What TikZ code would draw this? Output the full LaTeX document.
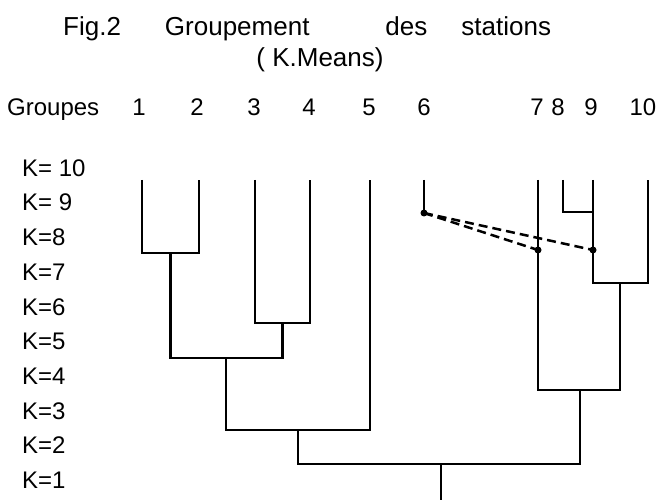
\documentclass[tikz,border=0pt]{standalone}
\usepackage{fontspec}
\setmainfont{Liberation Sans}
\usetikzlibrary{positioning}

\begin{document}
\begin{tikzpicture}[x = 1pt, y = -1pt, font = \fontsize{24}{28}\selectfont,
	lbl/.style = {inner sep = 0pt, anchor = base},
	big/.style = {font = \fontsize{26}{31}\selectfont},
	branch/.style = {line width = 2.5pt},
	link/.style = {line width = 2.5pt, dash pattern = on 9pt off 5pt}]

	\useasboundingbox (0, 0) rectangle (657, 500);

	% Title

	\node [lbl, big, anchor = base west] (title) at (63, 36)
		{Fig.2\hspace{44pt}Groupement\hspace{76pt}des\hspace{34pt}stations};
	\node [lbl, big] (means) at (320, 67) {( K.Means)};

	% Group numbers and leaf tops

	\node [lbl, anchor = base west] (groupes) at (7, 116) {Groupes};
	\foreach \n/\x/\lx in {1/142/139, 2/199/197, 3/255/254, 4/310/309, 5/370/369, 6/424/424,
		7/538/537, 8/563/558, 9/593/591, 10/648/643}
	{
		\node [lbl] (g\n) at (\lx, 116) {\n};
		\coordinate (l\n) at (\x, 180);
	}

	% Levels

	\foreach \k/\t in {10/{K= 10}, 9/{K= 9}, 8/K=8, 7/K=7, 6/K=6, 5/K=5, 4/K=4, 3/K=3, 2/K=2, 1/K=1}
		\node [lbl, anchor = west] (k\k) at (22, {168 + 34.7 * (10 - \k)}) {\t};

	% Joins

	\coordinate (j89) at (l9 |- 0, 212);
	\coordinate (j12) at (170.5, 253);
	\coordinate (j34) at (282.5, 323);
	\coordinate (j1234) at (226, 358);
	\coordinate (j15) at (298, 430);
	\coordinate (j910) at (620, 283);
	\coordinate (j710) at (580, 390);
	\coordinate (root) at (441, 464);
	\coordinate (foot) at (441, 500);

	\begin{scope}[branch]

		\draw (l8) |- (j89);
		\draw (l1) |- (j12) -| (l2);
		\draw (l3) |- (j34) -| (l4);
		\draw (j12) |- (j1234) -| (j34);
		\draw (j1234) |- (j15) -| (l5);
		\draw (l9) |- (j910) -| (l10);
		\draw (l7) |- (j710) -| (j910);
		\draw (j15) |- (root) -| (j710);
		\draw (root) -- (foot);

	\end{scope}

	% Station 6 linked to groups 7 and 9

	\coordinate (d6) at (l6 |- 0, 213);
	\coordinate (d7) at (l7 |- 0, 250);
	\coordinate (d9) at (l9 |- 0, 250);

	\draw [branch] (l6) -- (d6);
	\draw [link] (d6) -- (d7);
	\draw [link] (d6) -- (d9);

	\foreach \d in {d6, d7, d9}
		\fill (\d) circle (3.5);

\end{tikzpicture}
\end{document}
